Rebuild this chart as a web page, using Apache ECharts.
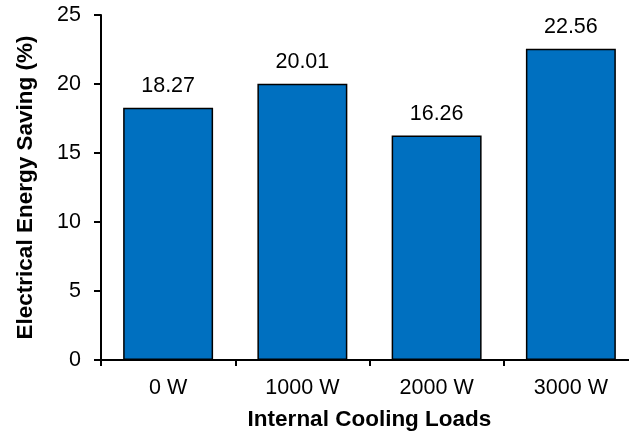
<!DOCTYPE html>
<html>
<head>
<meta charset="utf-8">
<script src="https://cdn.jsdelivr.net/npm/echarts@6/dist/echarts.min.js"></script>
<style>
  html, body { margin: 0; padding: 0; background: #ffffff; }
  #chart { width: 629px; height: 432px; }
</style>
</head>
<body>
<div id="chart"></div>
<script>
// Internal cooling load cases and the electrical energy saving for each
const categories = ['0 W', '1000 W', '2000 W', '3000 W'];
const savings = [18.27, 20.01, 16.26, 22.56];
const yTicks = [0, 5, 10, 15, 20, 25];

const FONT = '"Liberation Sans", Arial, Helvetica, sans-serif';

const chart = echarts.init(document.getElementById('chart'), null, { renderer: 'canvas' });

chart.setOption({
  animation: false,
  backgroundColor: '#ffffff',
  // the plot area runs a little past the right edge of the canvas
  grid: { left: 101, top: 15, bottom: 72, width: 537, outerBoundsMode: 'none', containLabel: false },
  xAxis: {
    type: 'category',
    data: categories,
    boundaryGap: true,
    name: 'Internal Cooling Loads',
    nameLocation: 'middle',
    nameGap: 48,
    nameTextStyle: { fontFamily: FONT, fontSize: 22.5, fontWeight: 'bold', color: '#000' },
    axisLine: { show: true, lineStyle: { color: '#000', width: 2 } },
    axisTick: { show: true, inside: false, length: 6, alignWithLabel: false, lineStyle: { color: '#000', width: 2 } },
    axisLabel: { fontFamily: FONT, fontSize: 21.5, color: '#000', margin: 17 },
    splitLine: { show: false }
  },
  yAxis: {
    type: 'value',
    min: yTicks[0],
    max: yTicks[yTicks.length - 1],
    interval: yTicks[1] - yTicks[0],
    name: 'Electrical Energy Saving (%)',
    nameLocation: 'middle',
    nameGap: 64,
    nameRotate: 90,
    nameTextStyle: { fontFamily: FONT, fontSize: 22.5, fontWeight: 'bold', color: '#000' },
    axisLine: { show: true, lineStyle: { color: '#000', width: 2 } },
    axisTick: { show: true, inside: false, length: 7, lineStyle: { color: '#000', width: 2 } },
    axisLabel: { fontFamily: FONT, fontSize: 21.5, color: '#000', margin: 20 },
    splitLine: { show: false }
  },
  series: [{
    type: 'bar',
    data: savings,
    barCategoryGap: '33%',
    itemStyle: { color: '#0070C0', borderColor: '#000', borderWidth: 1.5 },
    label: {
      show: true,
      position: 'top',
      distance: 11,
      fontFamily: FONT,
      fontSize: 21.5,
      color: '#000',
      formatter: p => p.value.toFixed(2)
    }
  }]
});
</script>
</body>
</html>
